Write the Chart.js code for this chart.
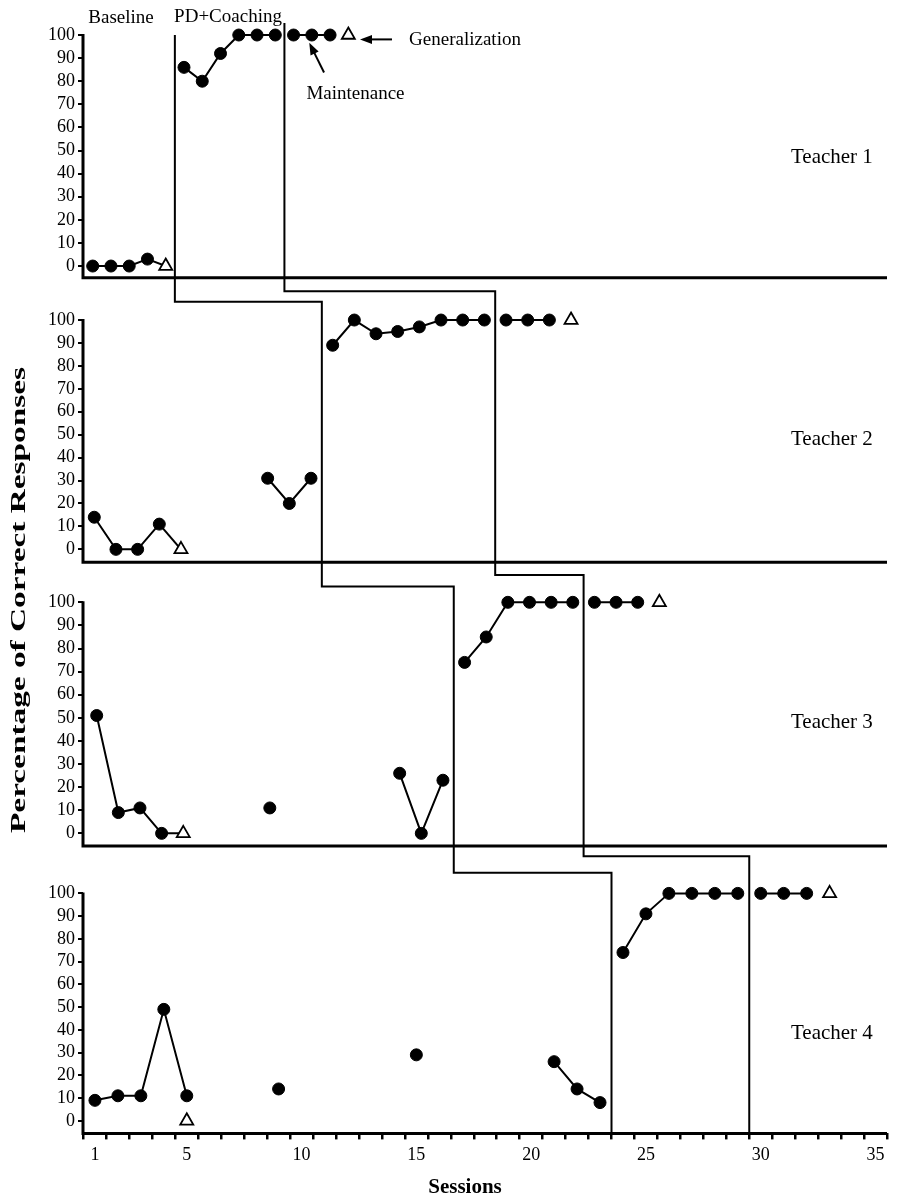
<!DOCTYPE html>
<html>
<head>
<meta charset="utf-8">
<script src="https://cdn.jsdelivr.net/npm/chart.js@4.4.1/dist/chart.umd.min.js"></script>
<style>
  html, body { margin: 0; padding: 0; background: #fff; }
  #wrap { width: 897px; height: 1197px; position: relative; }
  canvas { display: block; }
</style>
</head>
<body>
<div id="wrap"><canvas id="c" width="897" height="1197"></canvas></div>
<script>
// ---------------- DATA ----------------
const yTickValues = [0, 10, 20, 30, 40, 50, 60, 70, 80, 90, 100];
const xTickLabels = [1, 5, 10, 15, 20, 25, 30, 35];
const teacherNames = ['Teacher 1', 'Teacher 2', 'Teacher 3', 'Teacher 4'];
const phaseNames = ['Baseline', 'PD+Coaching', 'Maintenance', 'Generalization'];

// Teacher 1
const t1BaselineSessions = [1, 2, 3, 4];
const t1BaselineValues   = [0, 0, 0, 3];
const t1CoachingSessions = [6, 7, 8, 9, 10, 11];
const t1CoachingValues   = [86, 80, 92, 100, 100, 100];
const t1MaintenanceSessions = [12, 13, 14];
const t1MaintenanceValues   = [100, 100, 100];
const t1GeneralizationSessions = [5, 15];
const t1GeneralizationValues   = [0, 100];

// Teacher 2 (null = no baseline probe that session)
const t2BaselineSessions = [1, 2, 3, 4, 5, 6, 7, 8, 9, 10, 11];
const t2BaselineValues   = [14, 0, 0, 11, null, null, null, null, 31, 20, 31];
const t2CoachingSessions = [12, 13, 14, 15, 16, 17, 18, 19];
const t2CoachingValues   = [89, 100, 94, 95, 97, 100, 100, 100];
const t2MaintenanceSessions = [20, 21, 22];
const t2MaintenanceValues   = [100, 100, 100];
const t2GeneralizationSessions = [5, 23];
const t2GeneralizationValues   = [0, 100];

// Teacher 3
const t3BaselineSessions = [1, 2, 3, 4, 5, 6, 7, 8, 9, 10, 11, 12, 13, 14, 15, 16, 17];
const t3BaselineValues   = [51, 9, 11, 0, null, null, null, null, 11, null, null, null, null, null, 26, 0, 23];
const t3CoachingSessions = [18, 19, 20, 21, 22, 23];
const t3CoachingValues   = [74, 85, 100, 100, 100, 100];
const t3MaintenanceSessions = [24, 25, 26];
const t3MaintenanceValues   = [100, 100, 100];
const t3GeneralizationSessions = [5, 27];
const t3GeneralizationValues   = [0, 100];

// Teacher 4
const t4BaselineSessions = [1, 2, 3, 4, 5, 6, 7, 8, 9, 10, 11, 12, 13, 14, 15, 16, 17, 18, 19, 20, 21, 22, 23];
const t4BaselineValues   = [9, 11, 11, 49, 11, null, null, null, 14, null, null, null, null, null, 29, null, null, null, null, null, 26, 14, 8];
const t4CoachingSessions = [24, 25, 26, 27, 28, 29];
const t4CoachingValues   = [74, 91, 100, 100, 100, 100];
const t4MaintenanceSessions = [30, 31, 32];
const t4MaintenanceValues   = [100, 100, 100];
const t4GeneralizationSessions = [5, 33];
const t4GeneralizationValues   = [0, 100];

// whether the baseline line runs into the first generalization probe
const probeLinked = [true, true, true, false];

// phase-change lines: session boundary in each panel
const coachingStart    = [5.5, 11.5, 17.5, 23.5];
const maintenanceStart = [11.5, 19.5, 23.5, 29.5];

// ---------------- LAYOUT (not data) ----------------
const FONT = "'Liberation Serif', 'Times New Roman', Times, serif";
const panelX = [[0.469, 44.5], [0.479, 37.58], [0.367, 37.52], [0.48, 35.5]];
const panelY = [[-5.06, 106.5], [-5.67, 118.45], [-5.5, 117.3], [-5.54, 120.8]];
const panelH = [257.7, 284.6, 283.7, 287.3];
// levels (in the lower panel's y-scale) where the step lines cross over
const coachingStepLevel    = [108, 106.8, 109.1];
const maintenanceStepLevel = [112.6, 111.8, 116.3];

Chart.defaults.font.family = FONT;
Chart.defaults.color = '#000';

const teachers = [
  {b: [t1BaselineSessions, t1BaselineValues], c: [t1CoachingSessions, t1CoachingValues], m: [t1MaintenanceSessions, t1MaintenanceValues], g: [t1GeneralizationSessions, t1GeneralizationValues]},
  {b: [t2BaselineSessions, t2BaselineValues], c: [t2CoachingSessions, t2CoachingValues], m: [t2MaintenanceSessions, t2MaintenanceValues], g: [t2GeneralizationSessions, t2GeneralizationValues]},
  {b: [t3BaselineSessions, t3BaselineValues], c: [t3CoachingSessions, t3CoachingValues], m: [t3MaintenanceSessions, t3MaintenanceValues], g: [t3GeneralizationSessions, t3GeneralizationValues]},
  {b: [t4BaselineSessions, t4BaselineValues], c: [t4CoachingSessions, t4CoachingValues], m: [t4MaintenanceSessions, t4MaintenanceValues], g: [t4GeneralizationSessions, t4GeneralizationValues]}
];

function lineDS(xs, ys, k, extra) {
  return Object.assign({
    data: xs.map((x, i) => ({x: x, y: ys[i]})),
    xAxisID: 'x' + k, yAxisID: 'y' + k,
    borderColor: '#000', borderWidth: 2,
    pointStyle: 'circle', pointRadius: 6,
    pointBackgroundColor: '#000', pointBorderColor: '#000', pointBorderWidth: 1,
    tension: 0, spanGaps: false, order: 2
  }, extra || {});
}

const datasets = [];
teachers.forEach((t, i) => {
  const k = i + 1;
  datasets.push(lineDS(t.b[0], t.b[1], k));
  datasets.push(lineDS(t.c[0], t.c[1], k));
  datasets.push(lineDS(t.m[0], t.m[1], k));
  if (probeLinked[i]) {
    const gs = t.g[0][0];
    const idx = t.b[0].indexOf(gs - 1);
    datasets.push(lineDS([gs - 1, gs], [t.b[1][idx], t.g[1][0]], k, {pointRadius: 0, order: 3}));
  }
  datasets.push(lineDS(t.g[0], t.g[1], k, {
    showLine: false, pointStyle: 'triangle', pointRadius: 7.5,
    pointBackgroundColor: '#fff', pointBorderColor: '#000', pointBorderWidth: 1.8, order: 0
  }));
});

const xTickPositions = [];
for (let s = 1; s <= 35; s++) xTickPositions.push(s);

const scales = {};
for (let i = 0; i < 4; i++) {
  const k = i + 1;
  const isLast = i === 3;
  scales['x' + k] = {
    type: 'linear', position: 'bottom', display: isLast,
    min: panelX[i][0], max: panelX[i][1],
    border: {display: false},
    grid: {drawOnChartArea: false, offset: true, tickLength: 6, color: '#000', lineWidth: 2.5},
    ticks: {
      autoSkip: false, maxRotation: 0, padding: 5, font: {size: 18}, color: '#000',
      callback: v => xTickLabels.includes(v) ? String(v) : ''
    },
    afterBuildTicks: s => { s.ticks = xTickPositions.map(v => ({value: v})); }
  };
  scales['y' + k] = {
    type: 'linear', position: 'left', stack: 'panels', stackWeight: panelH[i], weight: 4 - i,
    min: panelY[i][0], max: panelY[i][1],
    border: {display: false},
    grid: {drawOnChartArea: false, tickLength: 5, color: '#000', lineWidth: 2},
    ticks: {autoSkip: false, font: {size: 18}, padding: 3, color: '#000'},
    afterBuildTicks: s => { s.ticks = yTickValues.map(v => ({value: v})); },
    afterFit: s => { s.width = 83; }
  };
}

const decorPlugin = {
  id: 'decor',
  beforeDatasetsDraw(chart) {
    const ctx = chart.ctx, ca = chart.chartArea, S = chart.scales;
    ctx.save();
    ctx.strokeStyle = '#000';
    ctx.lineCap = 'butt';
    // panel axes
    ctx.lineWidth = 3;
    for (let k = 1; k <= 4; k++) {
      const ys = S['y' + k];
      const bottom = ys.getPixelForValue(ys.min);
      ctx.beginPath();
      ctx.moveTo(ca.left, ys.getPixelForValue(100) - 1);
      ctx.lineTo(ca.left, bottom + 1.5);
      ctx.moveTo(ca.left - 1.5, bottom);
      ctx.lineTo(ca.right, bottom);
      ctx.stroke();
    }
    // phase change step lines
    ctx.lineWidth = 2;
    ctx.lineJoin = 'miter';
    const step = (bounds, topValue, levels) => {
      ctx.beginPath();
      let x = S.x1.getPixelForValue(bounds[0]);
      ctx.moveTo(x, S.y1.getPixelForValue(topValue));
      for (let k = 2; k <= 4; k++) {
        const yy = S['y' + k].getPixelForValue(levels[k - 2]);
        ctx.lineTo(x, yy);
        x = S['x' + k].getPixelForValue(bounds[k - 1]);
        ctx.lineTo(x, yy);
      }
      ctx.lineTo(x, S.y4.getPixelForValue(S.y4.min));
      ctx.stroke();
    };
    step(coachingStart, 100, coachingStepLevel);
    step(maintenanceStart, 105.2, maintenanceStepLevel);
    ctx.restore();
  },
  afterDraw(chart) {
    const ctx = chart.ctx, S = chart.scales;
    ctx.save();
    ctx.fillStyle = '#000';
    ctx.strokeStyle = '#000';
    ctx.textBaseline = 'alphabetic';
    ctx.textAlign = 'center';
    // phase labels (panel 1 coordinates)
    ctx.font = '19px ' + FONT;
    const lab = [[phaseNames[0], 2.55, 105.2], [phaseNames[1], 8.41, 105.6], [phaseNames[2], 15.39, 72.4], [phaseNames[3], 21.39, 95.7]];
    lab.forEach(l => ctx.fillText(l[0], S.x1.getPixelForValue(l[1]), S.y1.getPixelForValue(l[2])));
    // arrows
    const arrow = (x0, y0, x1, y1) => {
      const ax = S.x1.getPixelForValue(x0), ay = S.y1.getPixelForValue(y0);
      const bx = S.x1.getPixelForValue(x1), by = S.y1.getPixelForValue(y1);
      const ang = Math.atan2(by - ay, bx - ax);
      const L = 12, W = 4.5;
      ctx.lineWidth = 2;
      ctx.beginPath();
      ctx.moveTo(ax, ay);
      ctx.lineTo(bx - Math.cos(ang) * (L - 2), by - Math.sin(ang) * (L - 2));
      ctx.stroke();
      ctx.beginPath();
      ctx.moveTo(bx, by);
      ctx.lineTo(bx - Math.cos(ang) * L - Math.sin(ang) * W, by - Math.sin(ang) * L + Math.cos(ang) * W);
      ctx.lineTo(bx - Math.cos(ang) * L + Math.sin(ang) * W, by - Math.sin(ang) * L - Math.cos(ang) * W);
      ctx.closePath();
      ctx.fill();
    };
    arrow(17.39, 98.1, 15.64, 98.1);
    arrow(13.67, 83.8, 12.86, 96.7);
    // teacher labels
    ctx.font = '21px ' + FONT;
    const tY = [44.8, 45.7, 45.8, 35.8];
    teacherNames.forEach((n, i) => ctx.fillText(n, S.x4.getPixelForValue(33.1), S['y' + (i + 1)].getPixelForValue(tY[i])));
    // axis titles
    ctx.font = 'bold 21px ' + FONT;
    ctx.fillText('Sessions', 465, 1193);
    const yt = 'Percentage of Correct Responses';
    ctx.font = 'bold 22px ' + FONT;
    const w = ctx.measureText(yt).width;
    ctx.translate(19, 600);
    ctx.rotate(-Math.PI / 2);
    ctx.scale(466 / w, 1);
    ctx.textBaseline = 'middle';
    ctx.fillText(yt, 0, 0);
    ctx.restore();
  }
};

new Chart(document.getElementById('c'), {
  type: 'line',
  data: {datasets: datasets},
  options: {
    responsive: false,
    animation: false,
    events: [],
    devicePixelRatio: 1,
    layout: {padding: {top: 20, right: 10, bottom: 26, left: 0}},
    plugins: {legend: {display: false}, tooltip: {enabled: false}, title: {display: false}},
    scales: scales
  },
  plugins: [decorPlugin]
});
</script>
</body>
</html>
